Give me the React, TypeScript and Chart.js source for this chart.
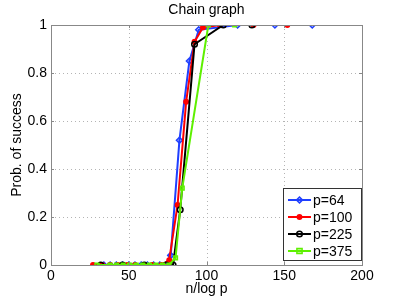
import { useEffect, useRef } from 'react';
import { Chart, registerables } from 'chart.js';
Chart.register(...registerables);

const chartTitle = 'Chain graph';
const xTitle = 'n/log p';
const yTitle = 'Prob. of success';
const xTicks = [0, 50, 100, 150, 200];
const yTicks = [0, 0.2, 0.4, 0.6, 0.8, 1];
const seriesLabels = ['p=64', 'p=100', 'p=225', 'p=375'];
const seriesColors = ['#1f3fff', '#ff0000', '#000000', '#5ef000'];

const p64X = [34, 38, 42, 46, 50, 54, 58, 62, 66, 70, 74, 77, 82.6, 89, 95, 120, 144, 168];
const p64Y = [0, 0, 0, 0, 0, 0, 0, 0, 0, 0, 0, 0.04, 0.52, 0.85, 0.98, 1, 1, 1];
const p100X = [27, 33, 38, 43, 49, 54, 60, 65, 71, 76, 81.4, 86.9, 92.3, 97.7, 108.6, 130.3, 152];
const p100Y = [0, 0, 0, 0, 0, 0, 0, 0, 0, 0.02, 0.25, 0.68, 0.93, 0.99, 1, 1, 1];
const p225X = [32, 46, 60, 74, 78.5, 83.1, 92.3, 110.8, 129.2];
const p225Y = [0, 0, 0, 0, 0, 0.23, 0.92, 1, 1];
const p375X = [29.5, 38, 42.2, 46.4, 50.6, 54.8, 59, 63.3, 67.5, 71.7, 75.9, 80.1, 84.4, 101.2, 118.1];
const p375Y = [0, 0, 0, 0, 0, 0, 0, 0, 0, 0, 0, 0.03, 0.32, 1, 1];

const FONT = 'Liberation Sans, Arial, Helvetica, sans-serif';

function pts(xs: number[], ys: number[]) {
  return xs.map((x, i) => ({ x, y: ys[i] }));
}

const markerStyles = [
  { pointStyle: 'rectRot', radius: 3, fill: 'rgba(31,63,255,0.25)' },
  { pointStyle: 'circle', radius: 2.2, fill: '#ff0000' },
  { pointStyle: 'circle', radius: 2.8, fill: 'rgba(0,0,0,0)' },
  { pointStyle: 'rect', radius: 2.6, fill: 'rgba(94,240,0,0.35)' },
];

function drawMarker(ctx: CanvasRenderingContext2D, style: string, x: number, y: number, r: number, stroke: string, fill: string) {
  ctx.save();
  ctx.strokeStyle = stroke;
  ctx.fillStyle = fill;
  ctx.lineWidth = 1.5;
  ctx.setLineDash([]);
  ctx.beginPath();
  if (style === 'rectRot') {
    ctx.moveTo(x, y - r);
    ctx.lineTo(x + r, y);
    ctx.lineTo(x, y + r);
    ctx.lineTo(x - r, y);
    ctx.closePath();
  } else if (style === 'rect') {
    ctx.rect(x - r, y - r, 2 * r, 2 * r);
  } else {
    ctx.arc(x, y, r, 0, Math.PI * 2);
  }
  ctx.fill();
  ctx.stroke();
  ctx.restore();
}

const gridPlugin = {
  id: 'dottedGrid',
  beforeDatasetsDraw(chart: any) {
    const ctx = chart.ctx;
    const a = chart.chartArea;
    const xs = chart.scales.x;
    const ys = chart.scales.y;
    ctx.save();
    ctx.strokeStyle = '#b4b4b4';
    ctx.lineWidth = 1;
    ctx.setLineDash([1, 3]);
    ctx.beginPath();
    for (const t of xTicks) {
      const px = Math.round(xs.getPixelForValue(t)) + 0.5;
      ctx.moveTo(px, a.top);
      ctx.lineTo(px, a.bottom);
    }
    for (const t of yTicks) {
      const py = Math.round(ys.getPixelForValue(t)) + 0.5;
      ctx.moveTo(a.left, py);
      ctx.lineTo(a.right, py);
    }
    ctx.stroke();
    ctx.restore();
  },
};

const boxPlugin = {
  id: 'matlabBox',
  afterDraw(chart: any) {
    const ctx = chart.ctx;
    const a = chart.chartArea;
    const xs = chart.scales.x;
    const ys = chart.scales.y;
    ctx.save();
    ctx.strokeStyle = '#888888';
    ctx.lineWidth = 1;
    ctx.strokeRect(Math.round(a.left) + 0.5, Math.round(a.top) + 0.5, Math.round(a.right - a.left), Math.round(a.bottom - a.top));
    ctx.beginPath();
    for (const t of xTicks) {
      const px = Math.round(xs.getPixelForValue(t)) + 0.5;
      ctx.moveTo(px, a.bottom);
      ctx.lineTo(px, a.bottom - 3);
      ctx.moveTo(px, a.top);
      ctx.lineTo(px, a.top + 3);
    }
    for (const t of yTicks) {
      const py = Math.round(ys.getPixelForValue(t)) + 0.5;
      ctx.moveTo(a.left, py);
      ctx.lineTo(a.left + 3, py);
      ctx.moveTo(a.right, py);
      ctx.lineTo(a.right - 3, py);
    }
    ctx.stroke();
    ctx.fillStyle = '#000';
    ctx.font = `14px ${FONT}`;
    ctx.textAlign = 'center';
    ctx.textBaseline = 'middle';
    ctx.fillText(chartTitle, (a.left + a.right) / 2, 10);
    const bx = 283.5, by = 188.5, bw = 78, bh = 72;
    ctx.fillStyle = '#ffffff';
    ctx.fillRect(bx, by, bw, bh);
    ctx.strokeStyle = '#333333';
    ctx.strokeRect(bx, by, bw, bh);
    ctx.textAlign = 'left';
    for (let i = 0; i < seriesLabels.length; i++) {
      const cy = 200 + i * 17;
      ctx.strokeStyle = seriesColors[i];
      ctx.lineWidth = 2;
      ctx.beginPath();
      ctx.moveTo(288, cy);
      ctx.lineTo(311, cy);
      ctx.stroke();
      const m = markerStyles[i];
      drawMarker(ctx, m.pointStyle, 299.5, cy, m.radius, seriesColors[i], m.fill);
      ctx.fillStyle = '#000';
      ctx.font = `14px ${FONT}`;
      ctx.fillText(seriesLabels[i], 313, cy + 1);
    }
    ctx.restore();
  },
};

export default function App() {
  const ref = useRef<HTMLCanvasElement | null>(null);
  useEffect(() => {
    document.body.style.margin = '0';
    const allX = [p64X, p100X, p225X, p375X];
    const allY = [p64Y, p100Y, p225Y, p375Y];
    const datasets = seriesLabels.map((label, i) => ({
      label,
      data: pts(allX[i], allY[i]),
      borderColor: seriesColors[i],
      backgroundColor: markerStyles[i].fill,
      borderWidth: 2,
      pointStyle: markerStyles[i].pointStyle as any,
      pointRadius: markerStyles[i].radius,
      pointBorderWidth: 1.5,
      pointBorderColor: seriesColors[i],
      pointBackgroundColor: markerStyles[i].fill,
      tension: 0,
      order: 3 - i,
    }));
    const chart = new Chart(ref.current as HTMLCanvasElement, {
      type: 'line',
      data: { datasets },
      options: {
        animation: false,
        responsive: false,
        maintainAspectRatio: false,
        layout: { padding: { left: 0, right: 37, top: 25, bottom: 0 } },
        plugins: { legend: { display: false }, tooltip: { enabled: false }, title: { display: false } },
        scales: {
          x: {
            type: 'linear',
            min: 0,
            max: 200,
            afterFit: (s: any) => { s.height = 34; },
            afterBuildTicks: (s: any) => { s.ticks = xTicks.map((v) => ({ value: v })); },
            ticks: { color: '#000', font: { family: FONT, size: 14 }, padding: 3, maxRotation: 0 },
            grid: { display: false, drawTicks: false },
            border: { display: false },
            title: { display: true, text: xTitle, color: '#000', font: { family: FONT, size: 14 }, padding: { top: 0, bottom: 1 } },
          },
          y: {
            type: 'linear',
            min: 0,
            max: 1,
            afterFit: (s: any) => { s.width = 51; },
            afterBuildTicks: (s: any) => { s.ticks = yTicks.map((v) => ({ value: v })); },
            ticks: {
              color: '#000',
              font: { family: FONT, size: 14 },
              padding: 4,
              callback: (v: any) => String(Number(Number(v).toFixed(1))),
            },
            grid: { display: false, drawTicks: false },
            border: { display: false },
            title: { display: true, text: yTitle, color: '#000', font: { family: FONT, size: 14 }, padding: { top: 9, bottom: 0 } },
          },
        },
      },
      plugins: [gridPlugin, boxPlugin],
    });
    return () => chart.destroy();
  }, []);
  return (
    <div style={{ width: 399, height: 299 }}>
      <canvas ref={ref} width={399} height={299} style={{ width: 399, height: 299, display: 'block' }} />
    </div>
  );
}
